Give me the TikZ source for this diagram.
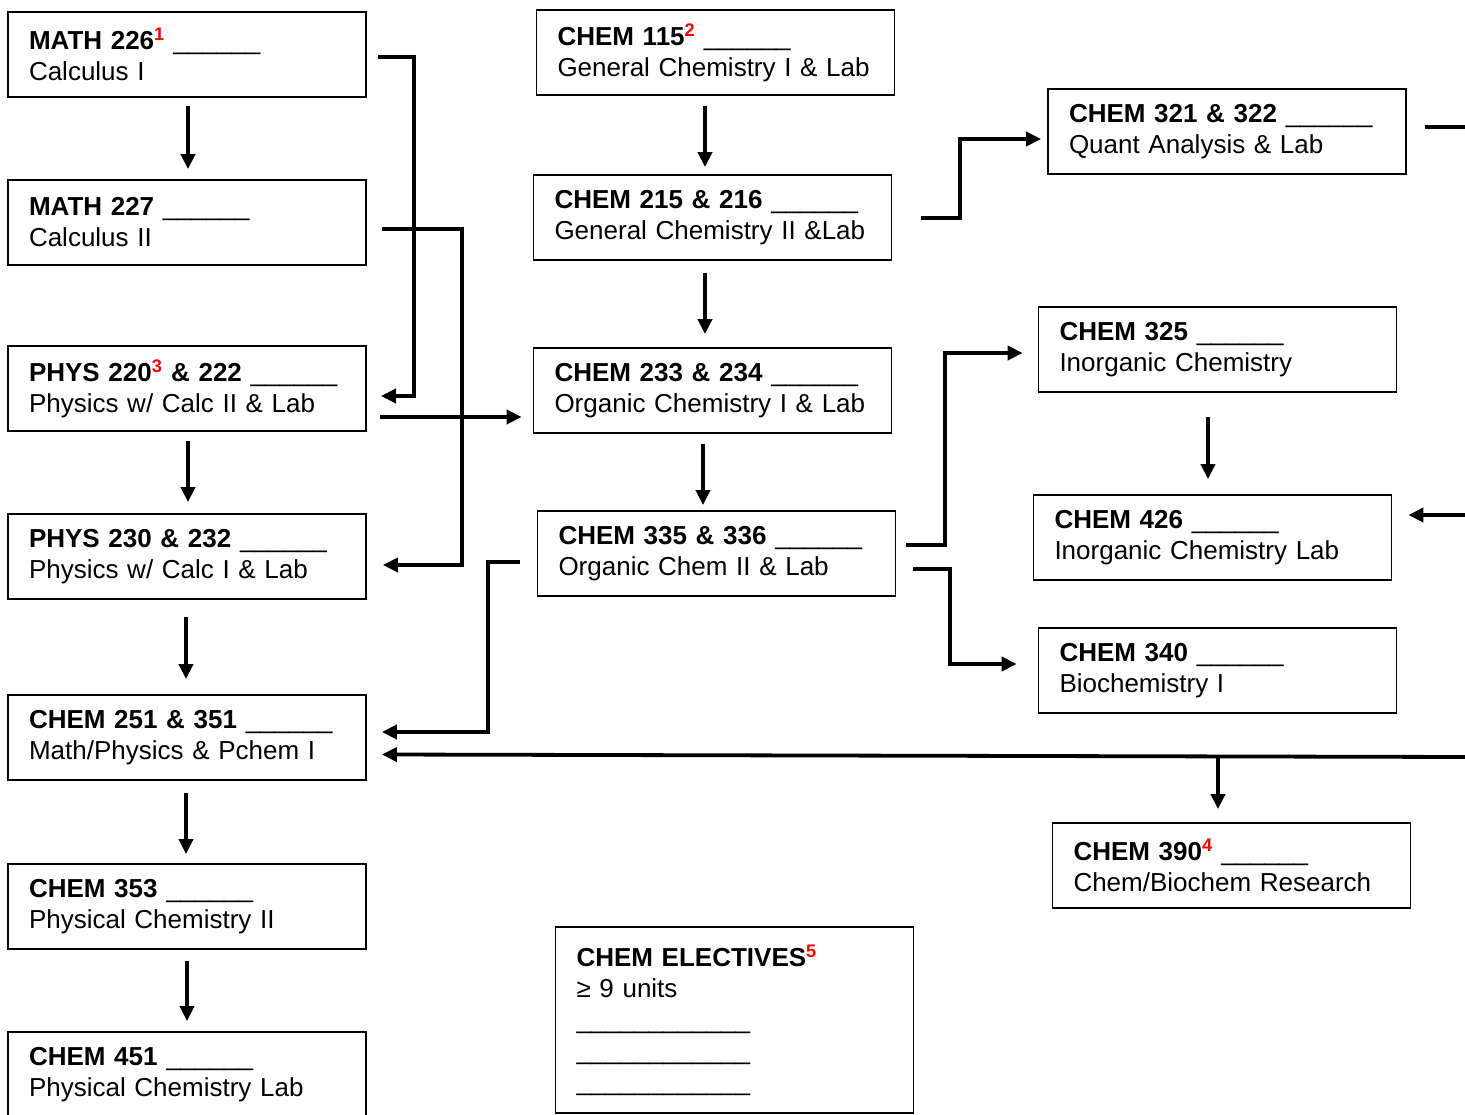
\documentclass[tikz,border=0pt]{standalone}
\usepackage{fontspec}
\setmainfont{Liberation Sans}
\usepackage{xcolor}
\usetikzlibrary{arrows.meta,calc}

\newcommand{\blankln}{\_\_\_\_\_\_}
\newcommand{\fnote}[1]{\textsuperscript{\textcolor{red}{\bfseries #1}}}

\begin{document}
\begin{tikzpicture}[
    x=1pt, y=-1pt,
    course/.style={rectangle, draw, line width=1.8pt, minimum width=358pt, minimum height=85pt,
        text width=316pt, inner xsep=21pt, align=left, font=\fontsize{26}{31}\selectfont},
    arr/.style={line width=3.8pt, -{Triangle[length=15pt, width=14pt]}},
    plain/.style={line width=3.8pt}
]
    \fill[white] (0,0) rectangle (1465,1115);
    \useasboundingbox (0,0) rectangle (1465,1115);

    % Math / physics column
    \node[course] (m226) at (187, 54.5) {\textbf{MATH 226}\fnote{1} \blankln\\Calculus I};
    \node[course] (m227) at (187, 222.5) {\textbf{MATH 227} \blankln\\Calculus II};
    \node[course] (p220) at (187, 388.5) {\textbf{PHYS 220}\fnote{3} \textbf{\& 222} \blankln\\Physics w/ Calc II \& Lab};
    \node[course] (p230) at (187, 556.5) {\textbf{PHYS 230 \& 232} \blankln\\Physics w/ Calc I \& Lab};
    \node[course] (c251) at (187, 737.5) {\textbf{CHEM 251 \& 351} \blankln\\Math/Physics \& Pchem I};
    \node[course] (c353) at (187, 906.5) {\textbf{CHEM 353} \blankln\\Physical Chemistry II};
    \node[course] (c451) at (187, 1074.5) {\textbf{CHEM 451} \blankln\\Physical Chemistry Lab};

    % General / organic column
    \node[course] (c115) at (715.5, 52.5) {\textbf{CHEM 115}\fnote{2} \blankln\\General Chemistry I \& Lab};
    \node[course] (c215) at (712.5, 217.5) {\textbf{CHEM 215 \& 216} \blankln\\General Chemistry II \&Lab};
    \node[course] (c233) at (712.5, 390.5) {\textbf{CHEM 233 \& 234} \blankln\\Organic Chemistry I \& Lab};
    \node[course] (c335) at (716.5, 553.5) {\textbf{CHEM 335 \& 336} \blankln\\Organic Chem II \& Lab};
    \node[course, minimum height=186pt] (elect) at (734.5, 1020) {\textbf{CHEM ELECTIVES}\fnote{5}\\≥ 9 units\\\blankln\blankln\\\blankln\blankln\\\blankln\blankln};

    % Upper division column
    \node[course] (c321) at (1227, 131.5) {\textbf{CHEM 321 \& 322} \blankln\\Quant Analysis \& Lab};
    \node[course] (c325) at (1217.5, 349.5) {\textbf{CHEM 325} \blankln\\Inorganic Chemistry};
    \node[course] (c426) at (1212.5, 537.5) {\textbf{CHEM 426} \blankln\\Inorganic Chemistry Lab};
    \node[course] (c340) at (1217.5, 670.5) {\textbf{CHEM 340} \blankln\\Biochemistry I};
    \node[course] (c390) at (1231.5, 865.5) {\textbf{CHEM 390}\fnote{4} \blankln\\Chem/Biochem Research};

    % Off-page ends
    \coordinate (edgeA) at (1470, 127);
    \coordinate (edgeB) at (1470, 515);
    \coordinate (edgeC) at (1470, 757);

    % Straight down
    \draw[arr] ($(m226.south)+(1,8)$) -- ($(m227.north)+(1,-10)$);
    \draw[arr] ($(p220.south)+(1,9)$) -- ($(p230.north)+(1,-11)$);
    \draw[arr] ($(p230.south)+(-1,17)$) -- ($(c251.north)+(-1,-15)$);
    \draw[arr] ($(c251.south)+(-1,12)$) -- ($(c353.north)+(-1,-9)$);
    \draw[arr] ($(c353.south)+(0,11)$) -- ($(c451.north)+(0,-10)$);
    \draw[arr] ($(c115.south)+(-10.5,10)$) -- ($(c215.north)+(-7.5,-7)$);
    \draw[arr] ($(c215.south)+(-7.5,12)$) -- ($(c233.north)+(-7.5,-13)$);
    \draw[arr] ($(c233.south)+(-9.5,10)$) -- ($(c335.north)+(-13.5,-5)$);
    \draw[arr] ($(c325.south)+(-9.5,24)$) -- ($(c426.north)+(-4.5,-15)$);

    % Elbows
    \draw[arr] ($(m226.east)+(11,2.5)$) -| ($(p220.east)+(47,7.5)$) -- ($(p220.east)+(14,7.5)$);
    \draw[arr] ($(m227.east)+(15,6.5)$) -| ($(p230.east)+(95,8.5)$) -- ($(p230.east)+(16,8.5)$);
    \draw[arr] ($(p220.east)+(13,28.5)$) -- ($(c233.west)+(-11,26.5)$);
    \draw[arr] ($(c335.west)+(-17,8.5)$) -| ($(c251.east)+(121,-5.5)$) -- ($(c251.east)+(15,-5.5)$);
    \draw[arr] ($(c215.east)+(29,0.5)$) -| ($(c321.west)+(-87,7.5)$) -- ($(c321.west)+(-6,7.5)$);
    \draw[arr] ($(c335.east)+(10,-8.5)$) -| ($(c325.west)+(-93,3.5)$) -- ($(c325.west)+(-15,3.5)$);
    \draw[arr] ($(c335.east)+(17,15.5)$) -| ($(c340.west)+(-88,-6.5)$) -- ($(c340.west)+(-21,-6.5)$);

    % From the right edge
    \draw[plain] ($(c321.east)+(18,-4.5)$) -- (edgeA);
    \draw[arr] (edgeB) -- ($(c426.east)+(16,-22.5)$);
    \draw[arr] (edgeC) -- ($(c251.east)+(15,17)$);
    \draw[arr] ($(c390.north)+(-13.5,-67)$) -- ($(c390.north)+(-13.5,-13)$);
\end{tikzpicture}
\end{document}
